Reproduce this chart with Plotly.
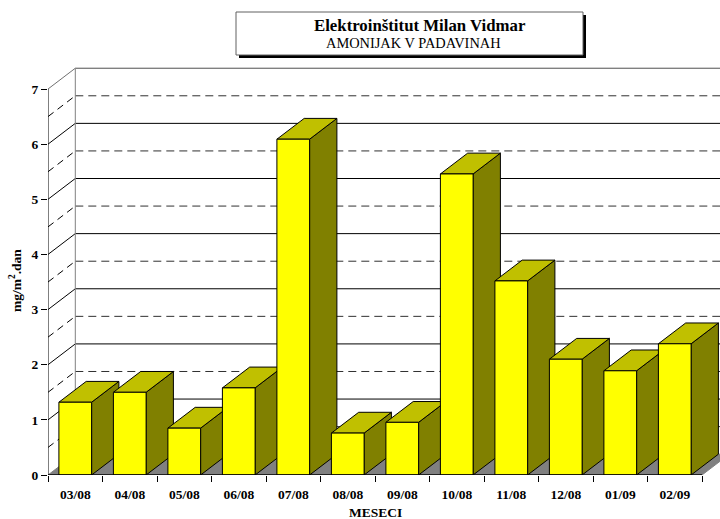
import plotly.graph_objects as go

months = ["03/08", "04/08", "05/08", "06/08", "07/08", "08/08",
          "09/08", "10/08", "11/08", "12/08", "01/09", "02/09"]
values = [1.32, 1.50, 0.85, 1.58, 6.09, 0.76, 0.955, 5.46, 3.52, 2.10, 1.89, 2.38]
y_ticks = [0, 1, 2, 3, 4, 5, 6, 7]
half_ticks = [0.5, 1.5, 2.5, 3.5, 4.5, 5.5, 6.5]

W, H = 720, 519
L, T, B = 48, 60, 44
PW, PH = W - L, H - T - B
UX = 54.5
UY = 55.14
XMIN = -0.5
XMAX = XMIN + PW / UX
YMAX = PH / UY
DX = 27.3 / UX
DY = 20.8 / UY
BW = 0.6
FONT = "Liberation Serif"


def px(x):
    return (x - L) / PW


def py(y):
    return (H - B - y) / PH


def segs(levels, x0, x1, d0=0.0, d1=0.0):
    xs, ys = [], []
    for v in levels:
        xs += [x0, x1, None]
        ys += [v + d0, v + d1, None]
    return xs, ys


fig = go.Figure()


def line(xs, ys, color, dash="solid", width=1, clip=True):
    fig.add_trace(go.Scatter(x=xs, y=ys, mode="lines", hoverinfo="skip",
                             cliponaxis=clip,
                             line=dict(color=color, width=width, dash=dash)))


def poly(xs, ys, fill):
    fig.add_trace(go.Scatter(x=xs, y=ys, mode="lines", fill="toself", fillcolor=fill,
                             hoverinfo="skip", line=dict(color="#000000", width=1)))


DASH = "8px,5px"
# back wall grid
xs, ys = segs(half_ticks, XMIN + DX, XMAX + 1, DY, DY)
line(xs, ys, "#303030", DASH)
xs, ys = segs(y_ticks[1:-1], XMIN + DX, XMAX + 1, DY, DY)
line(xs, ys, "#000000")
xs, ys = segs(y_ticks[-1:], XMIN + DX, XMAX + 1, DY, DY)
line(xs, ys, "#505050")
# side wall grid
xs, ys = segs(half_ticks, XMIN, XMIN + DX, 0, DY)
line(xs, ys, "#000000", "7px,5px")
xs, ys = segs(y_ticks[1:-1], XMIN, XMIN + DX, 0, DY)
line(xs, ys, "#000000")
xs, ys = segs(y_ticks[-1:], XMIN, XMIN + DX, 0, DY)
line(xs, ys, "#707070")
# back wall left edge
line([XMIN + DX, XMIN + DX], [DY, y_ticks[-1] + DY], "#808080")

# floor
fig.add_trace(go.Scatter(
    x=[XMIN, XMIN + DX, XMAX + 1, XMIN + len(months) + DX, XMIN + len(months), XMIN],
    y=[0, DY, DY, DY, 0, 0],
    mode="lines", fill="toself", fillcolor="#808080", hoverinfo="skip",
    line=dict(color="#808080", width=1)))

# sides and tops of the bars, left to right
for i, v in enumerate(values):
    l, r = i - BW / 2, i + BW / 2
    poly([r, r + DX, r + DX, r, r], [0, DY, v + DY, v, 0], "#808000")
    poly([l, l + DX, r + DX, r, l], [v, v + DY, v + DY, v, v], "#c0c000")

# left axis line
line([XMIN, XMIN], [0, y_ticks[-1]], "#000000", clip=False)

# front faces
fig.add_trace(go.Bar(x=list(range(len(months))), y=values, width=BW,
                     xaxis="x2", yaxis="y2", hoverinfo="skip",
                     marker=dict(color="#ffff00", line=dict(color="#000000", width=1))))

# baseline above the bars
fig.add_trace(go.Scatter(x=[XMIN, XMIN + len(months)], y=[0, 0], mode="lines",
                         xaxis="x2", yaxis="y2", cliponaxis=False, hoverinfo="skip",
                         line=dict(color="#000000", width=1.5)))

axis_font = dict(family=FONT, size=13.5, color="#000000", weight="bold")
fig.update_layout(
    width=W, height=H, showlegend=False,
    paper_bgcolor="#ffffff", plot_bgcolor="#ffffff",
    margin=dict(l=L, r=0, t=T, b=B, pad=0),
    xaxis=dict(range=[XMIN, XMAX], tickmode="array",
               tickvals=[XMIN + k for k in range(len(months) + 1)],
               showticklabels=False,
               ticks="outside", ticklen=6, tickwidth=1, tickcolor="#000000",
               showgrid=False, zeroline=False, showline=False),
    yaxis=dict(range=[0, YMAX], tickmode="array", tickvals=y_ticks,
               ticktext=[str(t) for t in y_ticks],
               ticks="outside", ticklen=6, tickwidth=1, tickcolor="#000000",
               tickfont=axis_font, showgrid=False, zeroline=False, showline=False),
    xaxis2=dict(range=[XMIN, XMAX], overlaying="x", anchor="y2", tickmode="array",
                tickvals=list(range(len(months))), ticktext=months,
                ticks="outside", ticklen=7, tickcolor="rgba(0,0,0,0)",
                tickfont=axis_font,
                showgrid=False, zeroline=False, showline=False),
    yaxis2=dict(range=[0, YMAX], overlaying="y", anchor="x2", visible=False),
    shapes=[
        dict(type="rect", xref="paper", yref="paper", x0=px(239), x1=px(586),
             y0=py(58), y1=py(15), fillcolor="#000000", line=dict(width=0)),
        dict(type="rect", xref="paper", yref="paper", x0=px(236), x1=px(583),
             y0=py(55), y1=py(12), fillcolor="#ffffff",
             line=dict(color="#606060", width=1)),
    ],
    annotations=[
        dict(text="<b>Elektroinštitut Milan Vidmar</b>", xref="paper", yref="paper",
             x=px(419.5), y=py(25), showarrow=False, xanchor="center", yanchor="middle",
             font=dict(family=FONT, size=16.8, color="#000000")),
        dict(text="AMONIJAK V PADAVINAH", xref="paper", yref="paper",
             x=px(413.5), y=py(43), showarrow=False, xanchor="center", yanchor="middle",
             font=dict(family=FONT, size=14.4, color="#000000")),
        dict(text="<b>mg/m<sup>2</sup>.dan</b>", xref="paper", yref="paper",
             x=px(15), y=py(281), showarrow=False, textangle=-90,
             xanchor="center", yanchor="middle",
             font=dict(family=FONT, size=13.5, color="#000000")),
        dict(text="<b>MESECI</b>", xref="paper", yref="paper",
             x=px(375), y=py(512), showarrow=False, xanchor="center", yanchor="middle",
             font=dict(family=FONT, size=13.5, color="#000000")),
    ],
)

fig.write_html("out.html", config={"displayModeBar": False},
               post_script="document.body.style.margin='0';")
